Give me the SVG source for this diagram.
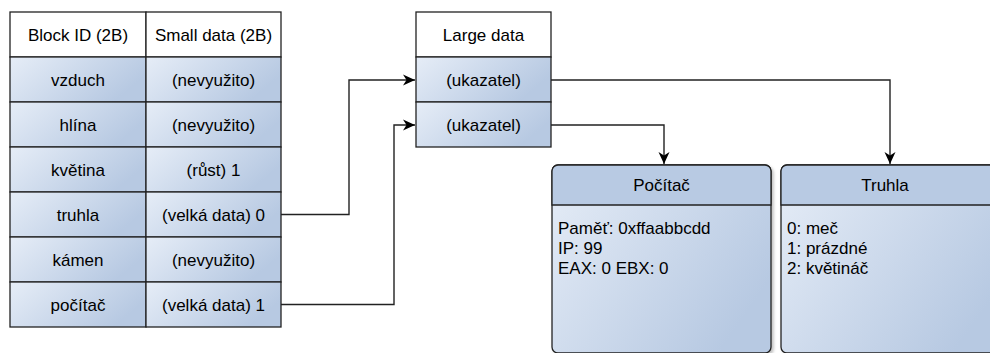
<svg xmlns="http://www.w3.org/2000/svg" width="990" height="353" viewBox="0 0 990 353">
<defs>
<linearGradient id="cellg" x1="0" y1="0" x2="1" y2="0.4">
<stop offset="0" stop-color="#e6edf7"/>
<stop offset="1" stop-color="#b7c9e2"/>
</linearGradient>
<linearGradient id="cardg" x1="0" y1="0" x2="1" y2="0.6">
<stop offset="0" stop-color="#e6edf7"/>
<stop offset="1" stop-color="#b7c9e2"/>
</linearGradient>
<filter id="sh" x="-5%" y="-5%" width="115%" height="115%">
<feDropShadow dx="2" dy="2" stdDeviation="1.5" flood-color="#000" flood-opacity="0.25"/>
</filter>
<marker id="arr" viewBox="0 0 12 12" refX="12" refY="6" markerWidth="12" markerHeight="12" markerUnits="userSpaceOnUse" orient="auto">
<path d="M0,0.5 L12,6 L0,11.5 L3.5,6 Z" fill="#000"/>
</marker>
</defs>
<style>
.hd{fill:#fff;stroke:#222;stroke-width:1.3}
.cell{fill:url(#cellg);stroke:#222;stroke-width:1.3}
.t{font-family:"Liberation Sans",Arial,sans-serif;font-size:17px;fill:#000;text-anchor:middle}
.b{font-family:"Liberation Sans",Arial,sans-serif;font-size:17px;fill:#000}
.ct{font-family:"Liberation Sans",Arial,sans-serif;font-size:17px;fill:#000;text-anchor:middle}
.con{fill:none;stroke:#222;stroke-width:1.4}
.card{fill:url(#cardg);stroke:#222;stroke-width:1.3}
.chd{fill:#b8cae3;stroke:#222;stroke-width:1.3}
</style>
<g id="table">
<rect class="hd" x="10" y="12" width="136" height="45"/>
<rect class="hd" x="146" y="12" width="135" height="45"/>
<text class="t" x="78" y="41">Block ID (2B)</text>
<text class="t" x="213.5" y="41">Small data (2B)</text>
</g>
<g id="row-vzduch">
<rect class="cell" x="10" y="57" width="136" height="45"/>
<rect class="cell" x="146" y="57" width="135" height="45"/>
<text class="t" x="78" y="86">vzduch</text>
<text class="t" x="213.5" y="86">(nevyužito)</text>
</g>
<g id="row-hlina">
<rect class="cell" x="10" y="102" width="136" height="45"/>
<rect class="cell" x="146" y="102" width="135" height="45"/>
<text class="t" x="78" y="131">hlína</text>
<text class="t" x="213.5" y="131">(nevyužito)</text>
</g>
<g id="row-kvetina">
<rect class="cell" x="10" y="147" width="136" height="45"/>
<rect class="cell" x="146" y="147" width="135" height="45"/>
<text class="t" x="78" y="176">květina</text>
<text class="t" x="213.5" y="176">(růst) 1</text>
</g>
<g id="row-truhla">
<rect class="cell" x="10" y="192" width="136" height="45"/>
<rect class="cell" x="146" y="192" width="135" height="45"/>
<text class="t" x="78" y="221">truhla</text>
<text class="t" x="213.5" y="221">(velká data) 0</text>
</g>
<g id="row-kamen">
<rect class="cell" x="10" y="237" width="136" height="45"/>
<rect class="cell" x="146" y="237" width="135" height="45"/>
<text class="t" x="78" y="266">kámen</text>
<text class="t" x="213.5" y="266">(nevyužito)</text>
</g>
<g id="row-pocitac">
<rect class="cell" x="10" y="282" width="136" height="45"/>
<rect class="cell" x="146" y="282" width="135" height="45"/>
<text class="t" x="78" y="311">počítač</text>
<text class="t" x="213.5" y="311">(velká data) 1</text>
</g>
<g id="large-data">
<rect class="hd" x="416" y="12" width="135" height="45"/>
<text class="t" x="483.5" y="41">Large data</text>
</g>
<g id="ptr0">
<rect class="cell" x="416" y="57" width="135" height="45"/>
<text class="t" x="483.5" y="86">(ukazatel)</text>
</g>
<g id="ptr1">
<rect class="cell" x="416" y="102" width="135" height="45"/>
<text class="t" x="483.5" y="131">(ukazatel)</text>
</g>
<g id="card-pocitac">
<path class="card" filter="url(#sh)" d="M552,171 a6,6 0 0 1 6,-6 h207 a6,6 0 0 1 6,6 v176 a6,6 0 0 1 -6,6 h-207 a6,6 0 0 1 -6,-6 z"/>
<path class="chd" d="M552,205 v-34 a6,6 0 0 1 6,-6 h207 a6,6 0 0 1 6,6 v34 z"/>
<text class="ct" x="661.5" y="191">Počítač</text>
<text class="b" x="558" y="234">Paměť: 0xffaabbcdd</text>
<text class="b" x="558" y="254">IP: 99</text>
<text class="b" x="558" y="274">EAX: 0 EBX: 0</text>
</g>
<g id="card-truhla">
<path class="card" filter="url(#sh)" d="M781,171 a6,6 0 0 1 6,-6 h220 v188 h-220 a6,6 0 0 1 -6,-6 z"/>
<path class="chd" d="M781,205 v-34 a6,6 0 0 1 6,-6 h220 v40 z"/>
<text class="ct" x="885" y="191">Truhla</text>
<text class="b" x="787" y="234">0: meč</text>
<text class="b" x="787" y="254">1: prázdné</text>
<text class="b" x="787" y="274">2: květináč</text>
</g>
<g id="connectors">
<path class="con" d="M281,214.5 H349 V80 H415" marker-end="url(#arr)"/>
<path class="con" d="M281,304.5 H394 V125 H415" marker-end="url(#arr)"/>
<path class="con" d="M551,80 H890 V164" marker-end="url(#arr)"/>
<path class="con" d="M551,125 H664 V164" marker-end="url(#arr)"/>
</g>
</svg>
